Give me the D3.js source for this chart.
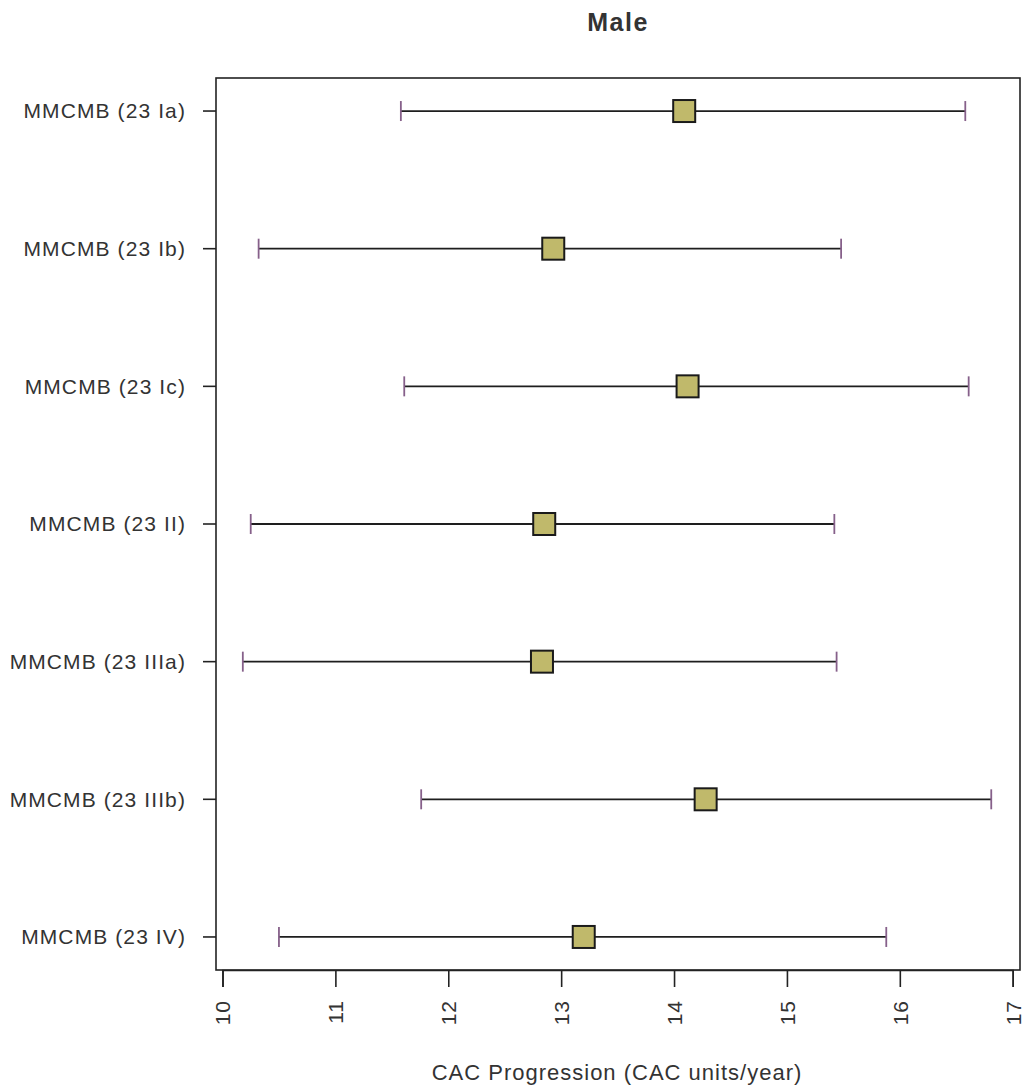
<!DOCTYPE html>
<html>
<head>
<meta charset="utf-8">
<script src="https://cdn.jsdelivr.net/npm/d3@7"></script>
<style>
  body { margin: 0; background: #fff; }
  text { font-family: "Liberation Sans", Arial, sans-serif; fill: #333; }
</style>
</head>
<body>
<div id="chart"></div>
<script>
const width = 1025
const height = 1089

// values
const groups = ['MMCMB (23 Ia)', 'MMCMB (23 Ib)', 'MMCMB (23 Ic)', 'MMCMB (23 II)',
                'MMCMB (23 IIIa)', 'MMCMB (23 IIIb)', 'MMCMB (23 IV)'];
const means = [14.09, 12.93, 14.12, 12.85, 12.83, 14.28, 13.20];
const lower = [11.58, 10.32, 11.61, 10.25, 10.18, 11.76, 10.50];
const upper = [16.58, 15.48, 16.61, 15.42, 15.44, 16.81, 15.88];
const xTicks = [10, 11, 12, 13, 14, 15, 16, 17];

const box = {left: 216, right: 1020, top: 78, bottom: 970};

const svg = d3.select('#chart').append('svg').attr('width', width).attr('height', height);

// x scale: 10 sits at 222.5, 17 at 1012.7
const x = d3.scaleLinear().domain([10, 17]).range([222.5, 1012.7]);
// y like base R: categories 1..n with 4% padding, first one on top
const n = groups.length;
const y = d3.scaleLinear().domain([0.76, n + 0.24]).range([box.bottom, box.top]);
const yPos = i => y(n - i);

const rows = groups.map((g, i) => ({name: g, mean: means[i], lo: lower[i], hi: upper[i], i: i}));

// plot frame
svg.append('rect')
  .attr('x', box.left).attr('y', box.top)
  .attr('width', box.right - box.left).attr('height', box.bottom - box.top)
  .attr('fill', 'none').attr('stroke', '#222').attr('stroke-width', 1.6);

// title
svg.append('text')
  .attr('x', 618).attr('y', 31)
  .attr('text-anchor', 'middle')
  .style('font-size', '25px').style('font-weight', 'bold')
  .style('letter-spacing', '1.5px')
  .text('Male');

// y axis (left) ticks and labels
const yAxis = svg.append('g');
yAxis.selectAll('line').data(rows).enter().append('line')
  .attr('x1', 203).attr('x2', box.left)
  .attr('y1', d => yPos(d.i)).attr('y2', d => yPos(d.i))
  .attr('stroke', '#222').attr('stroke-width', 1.6);
yAxis.selectAll('text').data(rows).enter().append('text')
  .attr('x', 186).attr('y', d => yPos(d.i))
  .attr('dy', '0.35em')
  .attr('text-anchor', 'end')
  .style('font-size', '21px')
  .style('letter-spacing', '1.1px')
  .text(d => d.name);

// x axis (bottom)
const xAxis = svg.append('g').attr('transform', 'translate(0,' + box.bottom + ')')
  .call(d3.axisBottom(x).tickValues(xTicks).tickSize(17).tickFormat(d3.format('d')));
xAxis.select('.domain').attr('stroke', '#222').attr('stroke-width', 1.6);
xAxis.selectAll('.tick line').attr('stroke', '#222').attr('stroke-width', 1.6);
xAxis.selectAll('.tick text')
  .attr('transform', 'rotate(-90)')
  .attr('x', -30).attr('y', 0).attr('dy', '0.35em')
  .attr('text-anchor', 'end')
  .style('font-size', '21px')
  .style('letter-spacing', '1px')
  .style('font-family', '"Liberation Sans", Arial, sans-serif')
  .attr('fill', '#333');

svg.append('text')
  .attr('x', 617).attr('y', 1080)
  .attr('text-anchor', 'middle')
  .style('font-size', '22px')
  .style('letter-spacing', '1px')
  .text('CAC Progression (CAC units/year)');

// error bars
const bars = svg.append('g');
bars.selectAll('line.ci').data(rows).enter().append('line')
  .attr('class', 'ci')
  .attr('x1', d => x(d.lo)).attr('x2', d => x(d.hi))
  .attr('y1', d => yPos(d.i)).attr('y2', d => yPos(d.i))
  .attr('stroke', '#1e1e1e').attr('stroke-width', 1.8);

const capH = 10;
bars.selectAll('line.caplo').data(rows).enter().append('line')
  .attr('class', 'caplo')
  .attr('x1', d => x(d.lo)).attr('x2', d => x(d.lo))
  .attr('y1', d => yPos(d.i) - capH).attr('y2', d => yPos(d.i) + capH)
  .attr('stroke', '#86608a').attr('stroke-width', 1.8);
bars.selectAll('line.caphi').data(rows).enter().append('line')
  .attr('class', 'caphi')
  .attr('x1', d => x(d.hi)).attr('x2', d => x(d.hi))
  .attr('y1', d => yPos(d.i) - capH).attr('y2', d => yPos(d.i) + capH)
  .attr('stroke', '#86608a').attr('stroke-width', 1.8);

// mean markers
const sz = 22;
bars.selectAll('rect').data(rows).enter().append('rect')
  .attr('x', d => x(d.mean) - sz / 2).attr('y', d => yPos(d.i) - sz / 2)
  .attr('width', sz).attr('height', sz)
  .attr('fill', '#c0b96b').attr('stroke', '#1a1a1a').attr('stroke-width', 2);
</script>
</body>
</html>
